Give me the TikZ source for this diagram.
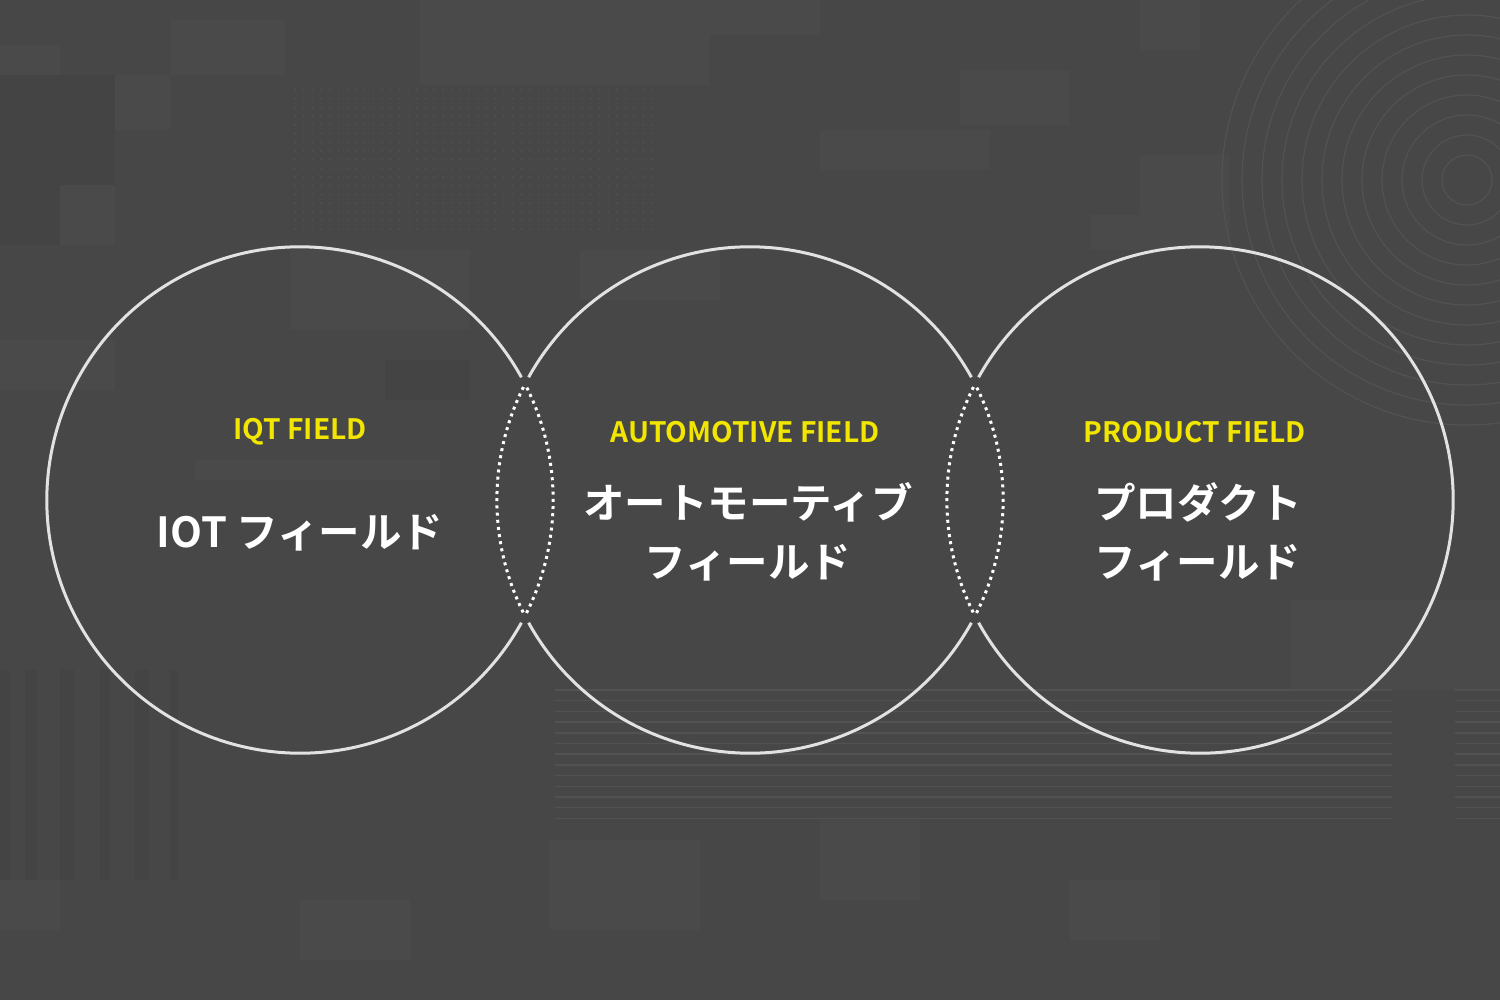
\documentclass[tikz,border=0pt]{standalone}
\usepackage{fontspec}
\setmainfont{Noto Sans CJK JP}
\newfontfamily\jpbold{Noto Sans CJK JP Bold}
\newfontfamily\jpmed{Noto Sans CJK JP Medium}
\usetikzlibrary{positioning}
\definecolor{bgbase}{HTML}{474747}
\definecolor{bglight}{HTML}{4A4A4A}
\definecolor{bgdark}{HTML}{444444}
\definecolor{texture}{HTML}{525252}
\definecolor{ringline}{HTML}{E2E2E2}
\definecolor{fieldyellow}{HTML}{F2E600}
\tikzset
{
    patchlight/.style = {fill=bglight, draw=none},
    patchdark/.style  = {fill=bgdark, draw=none},
    ring/.style       = {draw=ringline, line width=0.3mm},
    overlap/.style    = {draw=white, line width=0.3mm, dash pattern=on 0.3mm off 0.42mm},
    tagline/.style    = {text=fieldyellow, font=\jpbold\fontsize{8}{10}\selectfont},
    fieldname/.style  = {text=white, font=\jpbold\fontsize{11.8}{16.8}\selectfont, align=center}
}

\begin{document}
\begin{tikzpicture}
	[x=0.01cm, y=-0.01cm]
	\useasboundingbox (0,0) rectangle (1500,1000);
	\fill[bgbase] (0,0) rectangle (1500,1000);
	% background patches
	\begin{scope}
		\clip (0,0) rectangle (1500,1000);
		\fill[patchlight] (170,20) rectangle (285,75);
		\fill[patchlight] (420,0) rectangle (710,85);
		\fill[patchlight] (0,45) rectangle (60,75);
		\fill[patchdark] (0,75) rectangle (115,245);
		\fill[patchlight] (115,75) rectangle (170,130);
		\fill[patchlight] (60,185) rectangle (115,245);
		\fill[patchlight] (710,0) rectangle (820,35);
		\fill[patchlight] (820,130) rectangle (990,170);
		\fill[patchlight] (960,70) rectangle (1070,125);
		\fill[patchlight] (1140,0) rectangle (1200,50);
		\fill[patchlight] (1090,215) rectangle (1230,250);
		\fill[patchlight] (1140,155) rectangle (1230,215);
		\fill[patchlight] (580,250) rectangle (720,300);
		\fill[patchlight] (290,250) rectangle (470,330);
		\fill[patchdark] (385,360) rectangle (470,400);
		\fill[patchlight] (0,340) rectangle (115,390);
		\fill[patchlight] (1290,600) rectangle (1500,690);
		\fill[patchlight] (0,880) rectangle (60,930);
		\fill[patchlight] (300,900) rectangle (410,960);
		\fill[patchlight] (820,820) rectangle (920,900);
		\fill[patchlight] (1070,880) rectangle (1160,940);
		\fill[patchlight] (195,460) rectangle (440,480);
		\fill[patchlight] (550,840) rectangle (700,930);
		% stripes bottom left
		\foreach \sx/\sw in {0/10, 25/12, 60/15, 100/10, 135/14, 170/8}
			\fill[patchdark] (\sx,670) rectangle (\sx+\sw,880);
		% dot grid
		\foreach \dx in {0,...,41}
			\foreach \dy in {0,...,16}
				\fill[texture] (295+\dx*8.7,90+\dy*8.7) circle[radius=0.1mm];
		% horizontal lines
		\foreach \ly in {0,...,12}
		{
			\draw[texture, line width=0.15mm] (555,690+\ly*10.7) -- (1392,690+\ly*10.7);
			\draw[texture, line width=0.15mm] (1455,690+\ly*10.7) -- (1500,690+\ly*10.7);
		}
		% rings top right
		\foreach \r in {25,45,...,245}
			\draw[texture, line width=0.12mm] (1467,180) circle[radius=\r*0.01cm];
	\end{scope}

	% circle centres
	\coordinate (iot) at (300,500);
	\coordinate (auto) at (750,500);
	\coordinate (prod) at (1200,500);

	% solid arcs
	\draw[ring] (iot) ++(29:2.53cm) arc[start angle=29, end angle=331, radius=2.53cm];
	\draw[ring] (auto) ++(29:2.53cm) arc[start angle=29, end angle=151, radius=2.53cm];
	\draw[ring] (auto) ++(209:2.53cm) arc[start angle=209, end angle=331, radius=2.53cm];
	\draw[ring] (prod) ++(209:2.53cm) arc[start angle=209, end angle=511, radius=2.53cm];

	% dotted overlaps
	\draw[overlap] (iot) ++(-26.5:2.53cm) arc[start angle=-26.5, end angle=26.5, radius=2.53cm];
	\draw[overlap] (auto) ++(153.5:2.53cm) arc[start angle=153.5, end angle=206.5, radius=2.53cm];
	\draw[overlap] (auto) ++(-26.5:2.53cm) arc[start angle=-26.5, end angle=26.5, radius=2.53cm];
	\draw[overlap] (prod) ++(153.5:2.53cm) arc[start angle=153.5, end angle=206.5, radius=2.53cm];

	% labels
	\node[tagline] (iottag) at (300,432) {IQT FIELD};
	\node[fieldname] (iotname) at (300,533) {IOT フィールド};
	\node[tagline] (autotag) at (745,432) {AUTOMOTIVE FIELD};
	\node[fieldname] (autoname) at (748,532) {オートモーティブ\\フィールド};
	\node[tagline] (prodtag) at (1195,432) {PRODUCT FIELD};
	\node[fieldname] (prodname) at (1198,532) {プロダクト\\フィールド};
\end{tikzpicture}
\end{document}
